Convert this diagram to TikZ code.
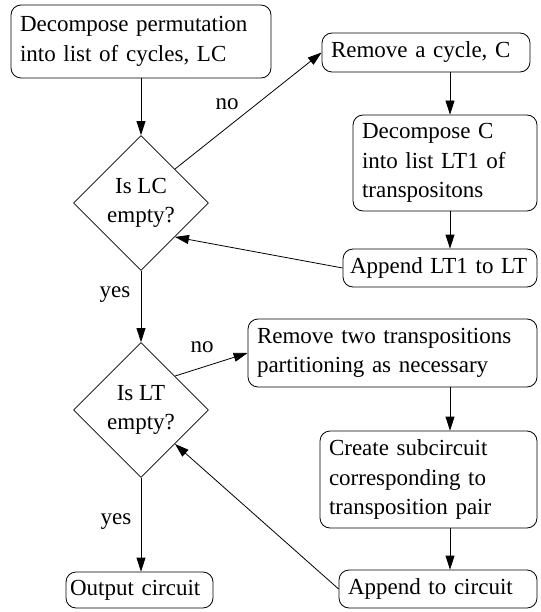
\documentclass[tikz,border=0pt]{standalone}
\usepackage{fontspec}
\setmainfont{Liberation Serif}
\usetikzlibrary{arrows.meta}
\usetikzlibrary{shapes.geometric}

\begin{document}
\begin{tikzpicture}[x=1pt,y=-1pt,line width=0.8pt,line join=round,
  font=\fontsize{23}{29.5}\selectfont,
  box/.style={draw,rounded corners=10pt,inner xsep=9pt,inner ysep=0pt,align=left},
  test/.style={draw,diamond,shape aspect=1,minimum width=135pt,minimum height=135pt,inner sep=0pt,align=center},
  flow/.style={-{Triangle[length=14pt,width=9pt]}},
  lbl/.style={inner sep=0pt}]
\useasboundingbox (0,0) rectangle (540,612);
\coordinate (rcol) at (450,0);
% left column
\node[box,text width=242pt,minimum height=73pt] (dp) at (141,41.5) {Decompose permutation\\into list of cycles, LC};
\node[test] (lc) at (141,203) {Is LC\\empty?};
\node[test] (lt) at (141,410) {Is LT\\empty?};
\node[box,inner xsep=4pt,text width=139pt,minimum height=36pt] (oc) at (139.5,590) {Output circuit};
% right column
\node[box,text width=190pt,minimum height=39pt] (rc) at (426,52.5) {Remove a cycle, C};
\node[box,text width=166pt,minimum height=96pt] (dc) at (445,163) {Decompose C\\into list LT1 of\\transpositons};
\node[box,inner xsep=7pt,text width=180pt,minimum height=38pt] (a1) at (440,268) {Append LT1 to LT};
\node[box,text width=271pt,minimum height=68pt] (rt) at (392.5,353) {Remove two transpositions\\partitioning as necessary};
\node[box,text width=199pt,minimum height=97pt] (cs) at (428.5,479.5) {Create subcircuit\\corresponding to\\transposition pair};
\node[box,text width=180pt,minimum height=38pt] (a2) at (438,589) {Append to circuit};
% labels
\node[lbl] (no1) at (227,104) {no};
\node[lbl] (yes1) at (115,295) {yes};
\node[lbl] (no2) at (202,347) {no};
\node[lbl] (yes2) at (116,522) {yes};
% arrows
\draw[flow] (dp.south) -- (lc.north);
\draw[flow] (lc.north east) -- (rc.west);
\draw[flow] (rc.south -| rcol) -- (dc.north -| rcol);
\draw[flow] (dc.south -| rcol) -- (a1.north -| rcol);
\draw[flow] (a1.west) -- (lc.south east);
\draw[flow] (lc.south) -- (lt.north);
\draw[flow] (lt.north east) -- (rt.west);
\draw[flow] (rt.south -| rcol) -- (cs.north -| rcol);
\draw[flow] (cs.south -| rcol) -- (a2.north -| rcol);
\draw[flow] (a2.west) -- (lt.south east);
\draw[flow] (lt.south) -- (oc.north -| lt.south);
\end{tikzpicture}
\end{document}
